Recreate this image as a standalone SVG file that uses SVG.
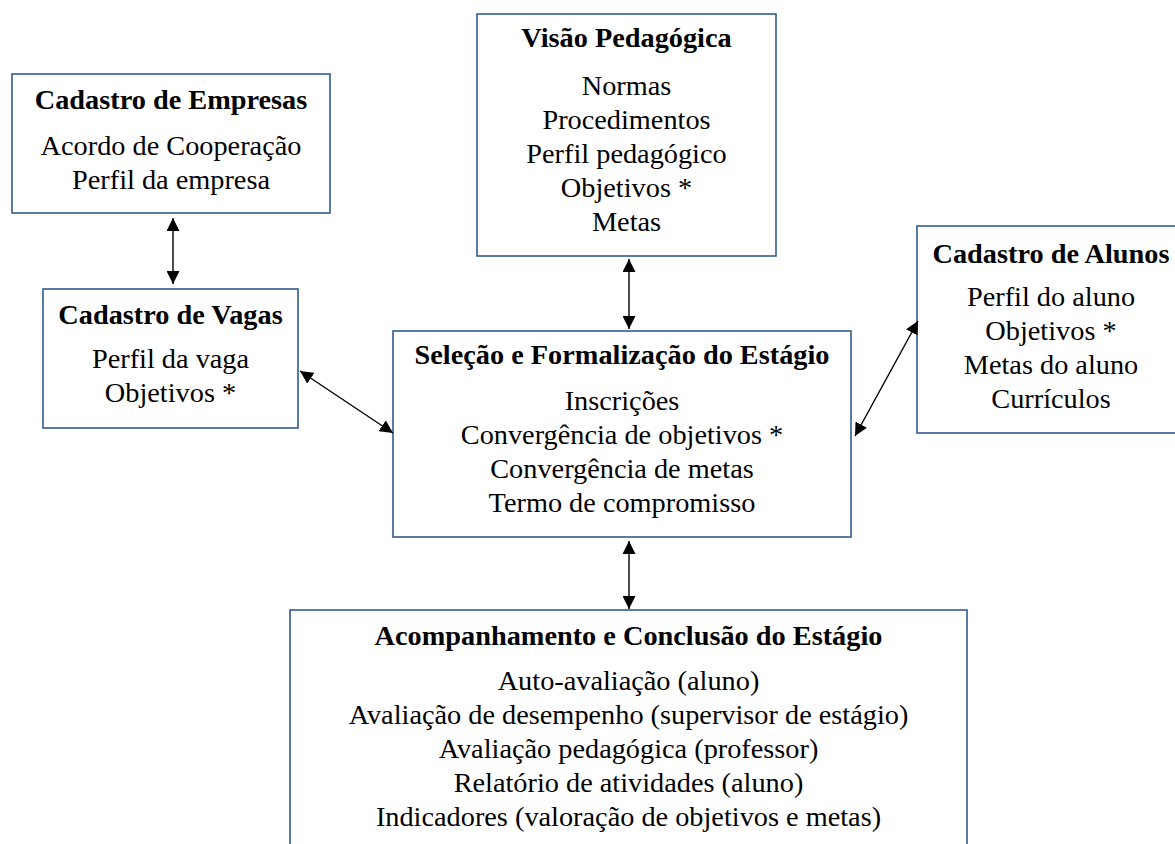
<svg xmlns="http://www.w3.org/2000/svg" width="1175" height="844" viewBox="0 0 1175 844">
<style>
.box{fill:#ffffff;stroke:#24508a;stroke-width:1.5}
text{font-family:"Liberation Serif","Times New Roman",serif;font-size:28.3px;fill:#000;text-anchor:middle}
.t{font-weight:bold}
.c{stroke:#000;stroke-width:1.4;fill:none;marker-start:url(#ah);marker-end:url(#ah)}
</style>
<defs>
<marker id="ah" markerUnits="userSpaceOnUse" markerWidth="13" markerHeight="13" refX="13" refY="6.5" orient="auto-start-reverse" viewBox="0 0 13 13">
<path d="M0,0 L13,6.5 L0,13 z" fill="#000"/>
</marker>
</defs>
<rect width="1175" height="844" fill="#fff"/>
<g id="empresas">
<rect class="box" x="12" y="74" width="318" height="139"/>
<text class="t" x="171" y="109">Cadastro de Empresas</text>
<text x="171" y="155">Acordo de Cooperação</text>
<text x="171" y="189">Perfil da empresa</text>
</g>
<g id="visao">
<rect class="box" x="477" y="14" width="299" height="242"/>
<text class="t" x="626.5" y="47">Visão Pedagógica</text>
<text x="626.5" y="95">Normas</text>
<text x="626.5" y="129">Procedimentos</text>
<text x="626.5" y="163">Perfil pedagógico</text>
<text x="626.5" y="197">Objetivos *</text>
<text x="626.5" y="231">Metas</text>
</g>
<g id="alunos">
<rect class="box" x="917" y="226" width="275" height="207"/>
<text class="t" x="1051" y="263">Cadastro de Alunos</text>
<text x="1051" y="306">Perfil do aluno</text>
<text x="1051" y="340">Objetivos *</text>
<text x="1051" y="374">Metas do aluno</text>
<text x="1051" y="408">Currículos</text>
</g>
<g id="vagas">
<rect class="box" x="43" y="289" width="255" height="139"/>
<text class="t" x="170.5" y="324">Cadastro de Vagas</text>
<text x="170.5" y="368">Perfil da vaga</text>
<text x="170.5" y="402">Objetivos *</text>
</g>
<g id="selecao">
<rect class="box" x="393" y="331" width="458" height="206"/>
<text class="t" x="622" y="364">Seleção e Formalização do Estágio</text>
<text x="622" y="410">Inscrições</text>
<text x="622" y="444">Convergência de objetivos *</text>
<text x="622" y="478">Convergência de metas</text>
<text x="622" y="512">Termo de compromisso</text>
</g>
<g id="acompanhamento">
<rect class="box" x="290" y="610" width="677" height="260"/>
<text class="t" x="628.5" y="645">Acompanhamento e Conclusão do Estágio</text>
<text x="628.5" y="690">Auto-avaliação (aluno)</text>
<text x="628.5" y="724">Avaliação de desempenho (supervisor de estágio)</text>
<text x="628.5" y="758">Avaliação pedagógica (professor)</text>
<text x="628.5" y="792">Relatório de atividades (aluno)</text>
<text x="628.5" y="826">Indicadores (valoração de objetivos e metas)</text>
</g>
<g id="connectors">
<line class="c" x1="173" y1="218" x2="173" y2="284"/>
<line class="c" x1="629" y1="259" x2="629" y2="329"/>
<line class="c" x1="629" y1="541" x2="629" y2="609"/>
<line class="c" x1="300" y1="371" x2="393" y2="433"/>
<line class="c" x1="918" y1="321" x2="855" y2="436"/>
</g>
</svg>
